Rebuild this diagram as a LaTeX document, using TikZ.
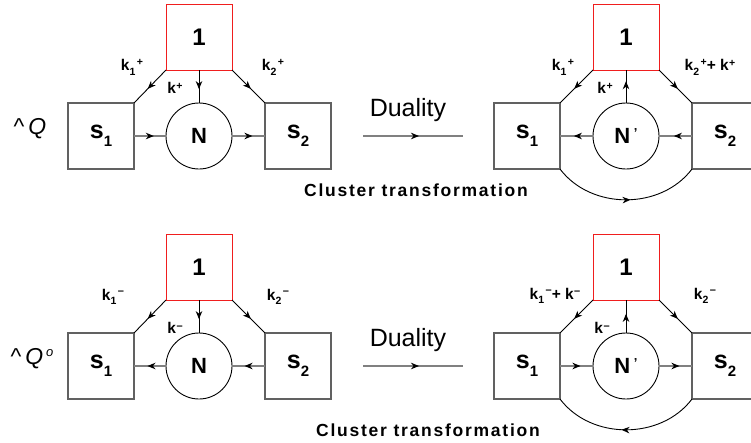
\documentclass[tikz,border=0pt]{standalone}
\usepackage{fontspec}
\setmainfont{Liberation Sans}
\usetikzlibrary{arrows.meta,decorations.markings}
\definecolor{boxgray}{gray}{0.38}
\definecolor{linegray}{gray}{0.5}
\definecolor{boxred}{RGB}{240,30,30}
\newcommand\klab[2]{k\raisebox{-4.5pt}{\fontsize{10.5}{10.5}\selectfont #1}\hspace{1.5pt}\raisebox{5.5pt}{\fontsize{10.5}{10.5}\selectfont #2}}
\newcommand\kone[1]{k\hspace{0.5pt}\raisebox{4.5pt}{\fontsize{10.5}{10.5}\selectfont #1}}
\newcommand\sname[1]{{\fontsize{25}{25}\selectfont s}\raisebox{-8pt}{\fontsize{15}{15}\selectfont #1}}
\newcommand\mns{\fontsize{11}{11}\selectfont –}
\begin{document}
\begin{tikzpicture}[x=1pt,y=-1pt,
  box/.style={draw=boxgray,line width=1.3pt,minimum width=66pt,minimum height=66pt,inner sep=0pt,outer sep=0pt,font=\bfseries},
  onebox/.style={draw=boxred,line width=1pt,minimum width=66pt,minimum height=66pt,inner sep=0pt,outer sep=0pt,font=\bfseries\fontsize{24}{24}\selectfont},
  circ/.style={circle,draw=black,line width=0.9pt,minimum size=66pt,inner sep=0pt,outer sep=0pt,font=\bfseries\fontsize{22}{22}\selectfont},
  dline/.style={draw=black,line width=0.9pt},
  hline/.style={draw=linegray,line width=1.7pt},
  midarrow/.style={postaction={decorate},decoration={markings,mark=at position #1 with {\arrow[black]{Stealth[length=8pt,width=6.5pt,inset=2.5pt]}}}},
  klabel/.style={inner sep=0pt,font=\bfseries\fontsize{15.5}{15.5}\selectfont},
  qlabel/.style={inner sep=0pt,font=\fontsize{23}{23}\selectfont},
  dual/.style={inner sep=0pt,font=\fontsize{25}{25}\selectfont},
  cluster/.style={inner sep=0pt,font=\bfseries\fontsize{17.5}{17.5}\selectfont\addfontfeature{LetterSpace=10}}
]
\useasboundingbox (0,0) rectangle (751,442);
\clip (0,0) rectangle (751,442);

% ---------- top left ----------
\node[onebox] (oneA) at (199,37) {1};
\node[box] (s1A) at (101,136) {\sname{1}};
\node[circ] (NA) at (199,136) {N};
\node[box] (s2A) at (298,136) {\sname{2}};
\draw[dline,midarrow=0.57] (oneA.south west) -- (s1A.north east);
\draw[dline,midarrow=0.57] (oneA.south east) -- (s2A.north west);
\draw[dline,midarrow=0.58] (oneA.south) -- (NA.north);
\draw[hline,midarrow=0.62] (s1A.east) -- (NA.west);
\draw[hline,midarrow=0.62] (NA.east) -- (s2A.west);
\node[klabel] (k1A) at (132,67) {\klab{1}{+}};
\node[klabel] (kA) at (175,88) {\kone{+}};
\node[klabel] (k2A) at (273,67) {\klab{2}{+}};
\node[qlabel] (QA) at (30,129) {\textasciicircum\,\textit{Q}};

% ---------- top middle ----------
\coordinate (dA1) at (363,136);
\coordinate (dA2) at (463,136);
\draw[hline,midarrow=0.56] (dA1) -- (dA2);
\node[dual] (DA) at (408,110) {Duality};
\node[cluster] (CA) at (416,190) {Cluster transformation};

% ---------- top right ----------
\node[onebox] (oneB) at (626,37) {1};
\node[box] (s1B) at (527,136) {\sname{1}};
\node[circ] (NB) at (626,136) {N\,\raisebox{6pt}{\fontsize{13}{13}\selectfont ’}};
\node[box] (s2B) at (725,136) {\sname{2}};
\draw[dline,midarrow=0.57] (oneB.south west) -- (s1B.north east);
\draw[dline,midarrow=0.57] (oneB.south east) -- (s2B.north west);
\draw[dline,midarrow=0.66] (NB.north) -- (oneB.south);
\draw[hline,midarrow=0.58] (NB.west) -- (s1B.east);
\draw[hline,midarrow=0.55] (s2B.west) -- (NB.east);
\draw[dline,midarrow=0.53] (s1B.south east) to[bend right=53] (s2B.south west);
\node[klabel] (k1B) at (563,67) {\klab{1}{+}};
\node[klabel] (kB) at (605,88) {\kone{+}};
\node[klabel] (k2B) at (710,67) {\klab{2}{+}+ \kone{+}};

% ---------- bottom left ----------
\node[onebox] (oneC) at (199,267) {1};
\node[box] (s1C) at (101,366) {\sname{1}};
\node[circ] (NC) at (199,366) {N};
\node[box] (s2C) at (298,366) {\sname{2}};
\draw[dline,midarrow=0.57] (oneC.south west) -- (s1C.north east);
\draw[dline,midarrow=0.57] (oneC.south east) -- (s2C.north west);
\draw[dline,midarrow=0.58] (oneC.south) -- (NC.north);
\draw[hline,midarrow=0.58] (NC.west) -- (s1C.east);
\draw[hline,midarrow=0.62] (s2C.west) -- (NC.east);
\node[klabel] (k1C) at (113,297) {\klab{1}{\mns}};
\node[klabel] (kC) at (175,328) {\kone{\mns}};
\node[klabel] (k2C) at (278,297) {\klab{2}{\mns}};
\node[qlabel] (QC) at (32,359) {\textasciicircum\,\textit{Q}\hspace{3pt}\raisebox{8pt}{\fontsize{13}{13}\selectfont\textit{o}}};

% ---------- bottom middle ----------
\coordinate (dC1) at (363,366);
\coordinate (dC2) at (463,366);
\draw[hline,midarrow=0.56] (dC1) -- (dC2);
\node[dual] (DC) at (408,340) {Duality};
\node[cluster] (CC) at (428,430) {Cluster transformation};

% ---------- bottom right ----------
\node[onebox] (oneD) at (626,267) {1};
\node[box] (s1D) at (527,366) {\sname{1}};
\node[circ] (ND) at (626,366) {N\,\raisebox{6pt}{\fontsize{13}{13}\selectfont ’}};
\node[box] (s2D) at (725,366) {\sname{2}};
\draw[dline,midarrow=0.57] (oneD.south west) -- (s1D.north east);
\draw[dline,midarrow=0.57] (oneD.south east) -- (s2D.north west);
\draw[dline,midarrow=0.58] (ND.north) -- (oneD.south);
\draw[hline,midarrow=0.62] (s1D.east) -- (ND.west);
\draw[hline,midarrow=0.62] (ND.east) -- (s2D.west);
\draw[dline,midarrow=0.53] (s2D.south west) to[bend left=53] (s1D.south east);
\node[klabel] (k1D) at (555,296) {\klab{1}{\mns}+ \kone{\mns}};
\node[klabel] (kD) at (602,328) {\kone{\mns}};
\node[klabel] (k2D) at (705,296) {\klab{2}{\mns}};
\end{tikzpicture}
\end{document}
